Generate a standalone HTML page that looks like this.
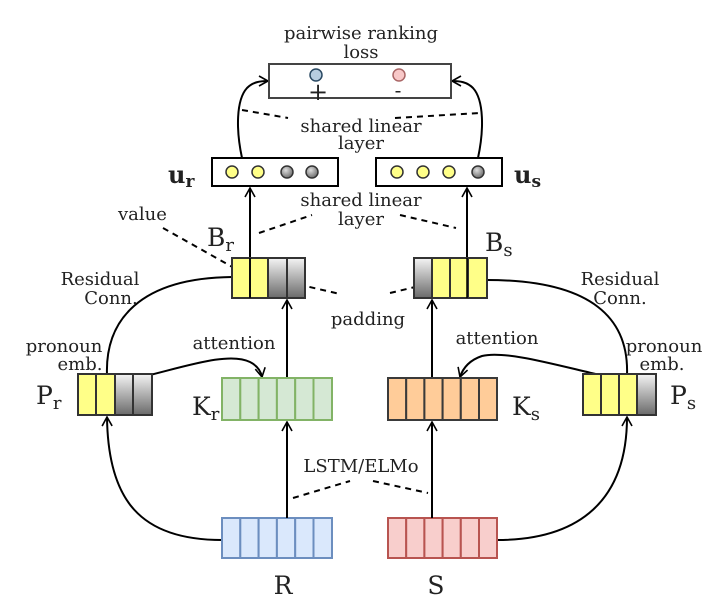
<!DOCTYPE html>
<html><head><meta charset="utf-8"><style>
html,body{margin:0;padding:0;background:#fff;width:711px;height:605px;overflow:hidden}
text{font-family:"DejaVu Serif","Liberation Serif",serif;fill:#222}
</style></head><body>
<svg width="711" height="605" viewBox="0 0 711 605" xmlns="http://www.w3.org/2000/svg">
<defs>
<linearGradient id="g" x1="0" y1="0" x2="0" y2="1"><stop offset="0" stop-color="#f4f4f4"/><stop offset="1" stop-color="#6a6a6a"/></linearGradient>
<radialGradient id="cg" cx="0.4" cy="0.35" r="0.7"><stop offset="0" stop-color="#ddd"/><stop offset="1" stop-color="#666"/></radialGradient>
<marker id="a" markerWidth="12" markerHeight="12" refX="10" refY="6" orient="auto" markerUnits="userSpaceOnUse"><path d="M1,1 L10,6 L1,11" fill="none" stroke="#000" stroke-width="1.6"/></marker>
</defs>
<g fill="none" stroke="#000" stroke-width="2">
<path d="M242,158 C236,130 236,100 247,88 C253,82 260,81 268,81" marker-end="url(#a)"/>
<path d="M478,158 C484,130 484,100 473,88 C467,82 460,81 452,81" marker-end="url(#a)"/>
<line x1="250" y1="258" x2="250" y2="188" marker-end="url(#a)"/>
<line x1="467" y1="258" x2="467" y2="188" marker-end="url(#a)"/>
<line x1="287" y1="378" x2="287" y2="300" marker-end="url(#a)"/>
<line x1="432" y1="378" x2="432" y2="300" marker-end="url(#a)"/>
<line x1="287" y1="518" x2="287" y2="422" marker-end="url(#a)"/>
<line x1="432" y1="518" x2="432" y2="422" marker-end="url(#a)"/>
<path d="M107,375 C105,320 140,278 232,277"/>
<path d="M627,375 C629,320 594,280 487,280"/>
<path d="M150,375 C190,365 230,352 250,362 C258,366 261,372 262,377" marker-end="url(#a)"/>
<path d="M600,375 C560,366 505,350 482,356 C470,360 463,368 460,377" marker-end="url(#a)"/>
<path d="M222,540 C140,540 108,500 107,417" marker-end="url(#a)"/>
<path d="M497,540 C580,540 627,500 627,417" marker-end="url(#a)"/>
</g>
<g stroke="#000" stroke-width="2" stroke-dasharray="6,5" fill="none">
<line x1="242" y1="110" x2="288" y2="118"/>
<line x1="395" y1="118" x2="480" y2="113"/>
<line x1="259" y1="233" x2="312" y2="215"/>
<line x1="400" y1="215" x2="456" y2="228"/>
<line x1="163" y1="228" x2="252" y2="278"/>
<line x1="288" y1="282" x2="340" y2="294"/>
<line x1="390" y1="293" x2="432" y2="283"/>
<line x1="293" y1="498" x2="350" y2="481"/>
<line x1="373" y1="481" x2="428" y2="493"/>
</g>
<rect x="269" y="64" width="182" height="34" fill="#fff" stroke="#444" stroke-width="2"/>
<circle cx="316" cy="75" r="6" fill="#b7cde0" stroke="#2b4a63" stroke-width="1.5"/>
<circle cx="399" cy="75" r="6" fill="#f8c8c8" stroke="#a66" stroke-width="1.5"/>
<text x="318" y="100" font-size="24" text-anchor="middle">+</text>
<text x="398" y="97" font-size="20" text-anchor="middle">-</text>
<text x="361" y="39" font-size="18" text-anchor="middle">pairwise ranking</text>
<text x="361" y="58" font-size="18" text-anchor="middle">loss</text>
<text x="361" y="132" font-size="18" text-anchor="middle">shared linear</text>
<text x="361" y="149" font-size="18" text-anchor="middle">layer</text>
<text x="361" y="206" font-size="18" text-anchor="middle">shared linear</text>
<text x="361" y="225" font-size="18" text-anchor="middle">layer</text>
<rect x="212" y="158" width="126" height="28" fill="#fff" stroke="#000" stroke-width="2"/>
<rect x="376" y="158" width="126" height="28" fill="#fff" stroke="#000" stroke-width="2"/>
<g stroke="#333" stroke-width="1.5">
<circle cx="232" cy="172" r="6" fill="#ffff88"/><circle cx="258" cy="172" r="6" fill="#ffff88"/>
<circle cx="287" cy="172" r="6" fill="url(#cg)"/><circle cx="312" cy="172" r="6" fill="url(#cg)"/>
<circle cx="397" cy="172" r="6" fill="#ffff88"/><circle cx="423" cy="172" r="6" fill="#ffff88"/>
<circle cx="449" cy="172" r="6" fill="#ffff88"/><circle cx="478" cy="172" r="6" fill="url(#cg)"/>
</g>
<text x="168" y="183" font-size="24" font-weight="bold">u<tspan font-size="17" dy="4">r</tspan></text>
<text x="514" y="183" font-size="24" font-weight="bold">u<tspan font-size="17" dy="4">s</tspan></text>
<g stroke="#333" stroke-width="2">
<rect x="232" y="258" width="18" height="40" fill="#ffff88"/><rect x="250" y="258" width="18" height="40" fill="#ffff88"/>
<rect x="268" y="258" width="19" height="40" fill="url(#g)"/><rect x="287" y="258" width="18" height="40" fill="url(#g)"/>
<rect x="414" y="258" width="18" height="40" fill="url(#g)"/><rect x="432" y="258" width="18" height="40" fill="#ffff88"/>
<rect x="450" y="258" width="18" height="40" fill="#ffff88"/><rect x="468" y="258" width="19" height="40" fill="#ffff88"/>
<rect x="78" y="374" width="18" height="41" fill="#ffff88"/><rect x="96" y="374" width="19" height="41" fill="#ffff88"/>
<rect x="115" y="374" width="18" height="41" fill="url(#g)"/><rect x="133" y="374" width="19" height="41" fill="url(#g)"/>
<rect x="583" y="374" width="18" height="41" fill="#ffff88"/><rect x="601" y="374" width="18" height="41" fill="#ffff88"/>
<rect x="619" y="374" width="18" height="41" fill="#ffff88"/><rect x="637" y="374" width="19" height="41" fill="url(#g)"/>
</g>
<line x1="250" y1="258" x2="250" y2="298" stroke="#000" stroke-width="1.5"/>
<line x1="467" y1="258" x2="467" y2="298" stroke="#000" stroke-width="1.5"/>
<g stroke="#82b366" stroke-width="2" fill="#d5e8d4">
<rect x="222" y="378" width="18.3" height="42"/><rect x="240.3" y="378" width="18.3" height="42"/><rect x="258.6" y="378" width="18.3" height="42"/><rect x="276.9" y="378" width="18.3" height="42"/><rect x="295.2" y="378" width="18.3" height="42"/><rect x="313.5" y="378" width="18.5" height="42"/>
</g>
<g stroke="#3a3a3a" stroke-width="2" fill="#ffcc99">
<rect x="388" y="378" width="18.2" height="42"/><rect x="406.2" y="378" width="18.2" height="42"/><rect x="424.4" y="378" width="18.2" height="42"/><rect x="442.6" y="378" width="18.2" height="42"/><rect x="460.8" y="378" width="18.2" height="42"/><rect x="479" y="378" width="18" height="42"/>
</g>
<g stroke="#6c8ebf" stroke-width="2" fill="#dae8fc">
<rect x="222" y="518" width="18.3" height="40"/><rect x="240.3" y="518" width="18.3" height="40"/><rect x="258.6" y="518" width="18.3" height="40"/><rect x="276.9" y="518" width="18.3" height="40"/><rect x="295.2" y="518" width="18.3" height="40"/><rect x="313.5" y="518" width="18.5" height="40"/>
</g>
<g stroke="#b85450" stroke-width="2" fill="#f8cecc">
<rect x="388" y="518" width="18.2" height="40"/><rect x="406.2" y="518" width="18.2" height="40"/><rect x="424.4" y="518" width="18.2" height="40"/><rect x="442.6" y="518" width="18.2" height="40"/><rect x="460.8" y="518" width="18.2" height="40"/><rect x="479" y="518" width="18" height="40"/>
</g>
<line x1="287" y1="518" x2="287" y2="422" stroke="#000" stroke-width="2"/>
<line x1="432" y1="518" x2="432" y2="422" stroke="#000" stroke-width="2"/>
<text x="118" y="220" font-size="18">value</text>
<text x="207" y="246" font-size="25">B<tspan font-size="18" dy="5">r</tspan></text>
<text x="485" y="251" font-size="25">B<tspan font-size="18" dy="5">s</tspan></text>
<text x="100" y="285" font-size="18" text-anchor="middle">Residual</text>
<text x="111" y="304" font-size="18" text-anchor="middle">Conn.</text>
<text x="620" y="285" font-size="18" text-anchor="middle">Residual</text>
<text x="620" y="304" font-size="18" text-anchor="middle">Conn.</text>
<text x="368" y="325" font-size="18" text-anchor="middle">padding</text>
<text x="64" y="352" font-size="18" text-anchor="middle">pronoun</text>
<text x="80" y="370" font-size="18" text-anchor="middle">emb.</text>
<text x="664" y="352" font-size="18" text-anchor="middle">pronoun</text>
<text x="662" y="370" font-size="18" text-anchor="middle">emb.</text>
<text x="234" y="349" font-size="18" text-anchor="middle">attention</text>
<text x="497" y="344" font-size="18" text-anchor="middle">attention</text>
<text x="36" y="404" font-size="25">P<tspan font-size="18" dy="5">r</tspan></text>
<text x="670" y="404" font-size="25">P<tspan font-size="18" dy="5">s</tspan></text>
<text x="192" y="415" font-size="25">K<tspan font-size="18" dy="5">r</tspan></text>
<text x="512" y="415" font-size="25">K<tspan font-size="18" dy="5">s</tspan></text>
<text x="361" y="472" font-size="18" text-anchor="middle">LSTM/ELMo</text>
<text x="283" y="594" font-size="25" text-anchor="middle">R</text>
<text x="436" y="594" font-size="25" text-anchor="middle">S</text>
</svg>
</body></html>
